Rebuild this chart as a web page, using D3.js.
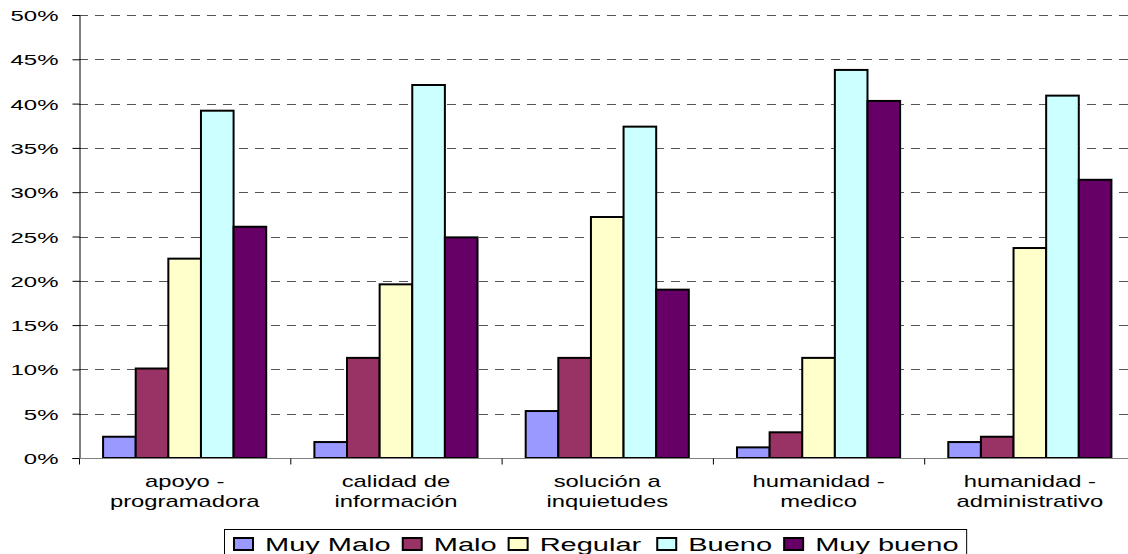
<!DOCTYPE html>
<html>
<head>
<meta charset="utf-8">
<script src="https://cdn.jsdelivr.net/npm/d3@7/dist/d3.min.js"></script>
<style>
  html, body { margin: 0; padding: 0; background: #fff; }
  svg { display: block; }
  text { font-family: "Liberation Sans", Arial, sans-serif; fill: #000; }
</style>
</head>
<body>
<svg id="chart" width="1128" height="554"></svg>
<script>
// Survey categories (two-line labels)
const categories = [
  "apoyo - programadora",
  "calidad de información",
  "solución a inquietudes",
  "humanidad - medico",
  "humanidad - administrativo"
];
const categoryLines = [
  ["apoyo -", "programadora"],
  ["calidad de", "información"],
  ["solución a", "inquietudes"],
  ["humanidad -", "medico"],
  ["humanidad -", "administrativo"]
];

// Answer levels and their colours
const seriesNames = ["Muy Malo", "Malo", "Regular", "Bueno", "Muy bueno"];
const seriesColors = ["#9999FF", "#993366", "#FFFFCC", "#CCFFFF", "#660066"];

// Percentages per level, one value per category
const muyMalo  = [2.4, 1.8, 5.3, 1.2, 1.8];
const malo     = [10.1, 11.3, 11.3, 2.9, 2.4];
const regular  = [22.5, 19.6, 27.2, 11.3, 23.7];
const bueno    = [39.2, 42.1, 37.4, 43.8, 40.9];
const muyBueno = [26.1, 24.9, 19.0, 40.3, 31.4];

const yTicks = [0, 5, 10, 15, 20, 25, 30, 35, 40, 45, 50];

const seriesValues = [muyMalo, malo, regular, bueno, muyBueno];

const svg = d3.select("#chart");

// the text of this chart is set wide (horizontally stretched)
const tickFont = 15, tickScaleX = 1.6;
const catFont = 17, catScaleX = 1.4;
const legendFont = 18.6, legendScaleX = 1.56;

const plotLeft = 79, plotRight = 1135.5, plotTop = 15, plotBottom = 458;

const x0 = d3.scaleBand().domain(categories).range([plotLeft, plotRight]).paddingInner(0).paddingOuter(0);
const groupPad = 0.114;
const x1 = d3.scaleBand().domain(seriesNames)
  .range([x0.bandwidth() * groupPad, x0.bandwidth() * (1 - groupPad)]).padding(0);
const y = d3.scaleLinear().domain([0, 50]).range([plotBottom, plotTop]);

// dashed gridlines
svg.append("g").selectAll("line").data(yTicks.filter(d => d > 0)).join("line")
  .attr("x1", plotLeft).attr("x2", 1128)
  .attr("y1", d => Math.round(y(d)) + 0.5).attr("y2", d => Math.round(y(d)) + 0.5)
  .attr("stroke", "#555").attr("stroke-width", 1.2)
  .attr("stroke-dasharray", "9,7");

// bars
const groups = svg.append("g").selectAll("g").data(categories).join("g")
  .attr("transform", d => `translate(${x0(d)},0)`);
groups.selectAll("rect")
  .data((c, i) => seriesNames.map((s, j) => ({ s, j, v: seriesValues[j][i] })))
  .join("rect")
  .attr("x", d => x1(d.s))
  .attr("width", x1.bandwidth())
  .attr("y", d => y(d.v))
  .attr("height", d => y(0) - y(d.v))
  .attr("fill", d => seriesColors[d.j])
  .attr("stroke", "#000").attr("stroke-width", 2);

// y axis
const yAxis = svg.append("g").attr("transform", `translate(${plotLeft + 0.5},0)`)
  .call(d3.axisLeft(y).tickValues(yTicks).tickSize(7).tickPadding(0).tickFormat(d => d + "%"));
yAxis.select(".domain").attr("stroke", "#000");
yAxis.selectAll(".tick line").attr("stroke", "#000");
yAxis.selectAll(".tick text").remove();
yAxis.selectAll(".tick").append("text")
  .attr("transform", `translate(-21,5.5) scale(${tickScaleX},1)`)
  .attr("text-anchor", "end")
  .style("font-size", tickFont + "px")
  .text(d => d + "%");

// x axis
const xAxis = svg.append("g").attr("transform", `translate(0,${plotBottom + 0.5})`);
xAxis.append("line").attr("x1", plotLeft).attr("x2", 1128).attr("stroke", "#808080").attr("stroke-width", 1.2);
xAxis.selectAll("line.tk").data(d3.range(categories.length + 1)).join("line")
  .attr("class", "tk")
  .attr("x1", i => plotLeft + i * x0.step() + 0.5).attr("x2", i => plotLeft + i * x0.step() + 0.5)
  .attr("y1", 0).attr("y2", 6).attr("stroke", "#000");

const labels = svg.append("g").selectAll("g").data(categories).join("g")
  .attr("transform", d => `translate(${x0(d) + x0.bandwidth() / 2},0)`);
labels.each(function(c, i) {
  const g = d3.select(this);
  categoryLines[i].forEach((line, k) => {
    g.append("text")
      .attr("transform", `translate(0,${486.5 + k * 20}) scale(${catScaleX},1)`)
      .attr("text-anchor", "middle")
      .style("font-size", catFont + "px")
      .text(line);
  });
});

// legend
const legend = svg.append("g");
const legendGaps = [12, 12, 16, 12, 0];
let cx = 234;
const items = [];
seriesNames.forEach((s, j) => {
  const t = legend.append("text")
    .style("font-size", legendFont + "px")
    .text(s);
  const w = t.node().getComputedTextLength() * legendScaleX;
  items.push({ s, j, t, x: cx, w });
  cx += 20 + 11 + w + legendGaps[j];
});
const lgLeft = 224.5, lgRight = cx + 8;
legend.insert("rect", ":first-child")
  .attr("x", lgLeft).attr("y", 529.5).attr("width", lgRight - lgLeft).attr("height", 40)
  .attr("fill", "#fff").attr("stroke", "#000").attr("stroke-width", 1);
items.forEach(it => {
  legend.append("rect")
    .attr("x", it.x).attr("y", 538).attr("width", 19).attr("height", 12)
    .attr("fill", seriesColors[it.j]).attr("stroke", "#000").attr("stroke-width", 2);
  it.t.attr("transform", `translate(${it.x + 31},550.5) scale(${legendScaleX},1)`);
});
</script>
</body>
</html>
